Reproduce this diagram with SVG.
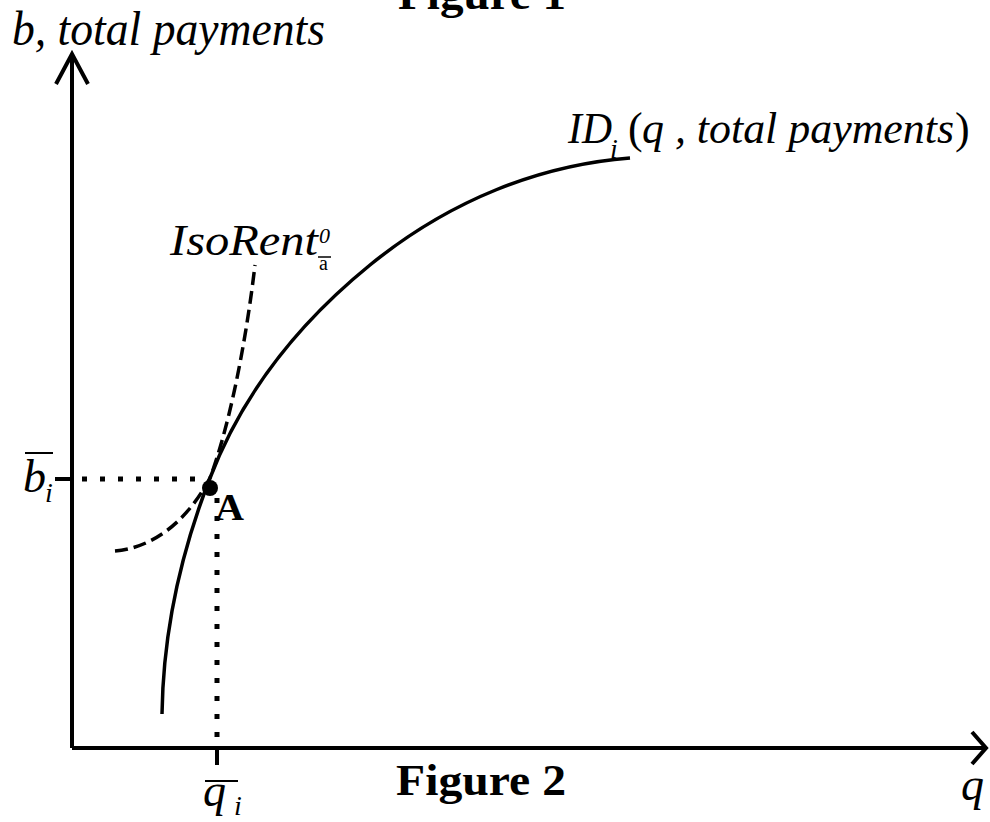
<svg xmlns="http://www.w3.org/2000/svg" width="990" height="822" viewBox="0 0 990 822">
<style>
.ax{stroke:#000;stroke-width:4;fill:none;stroke-linecap:butt}
.cv{stroke:#000;stroke-width:3.5;fill:none}
.dash{stroke:#000;stroke-width:3.5;fill:none;stroke-dasharray:13 6}
.dot{stroke:#000;stroke-width:5;fill:none;stroke-dasharray:5 13}
.it{font-family:"Liberation Serif","Times New Roman",serif;font-style:italic;fill:#000}
.rm{font-family:"Liberation Serif","Times New Roman",serif;fill:#000}
.bd{font-family:"Liberation Serif","Times New Roman",serif;font-weight:bold;fill:#000}
</style>
<rect width="990" height="822" fill="#fff"/>
<g id="connectors">
<path class="ax" d="M72,748 V54"/>
<path class="ax" d="M56,84 L72,54 L88,84"/>
<path class="ax" d="M72,748 H986"/>
<path class="ax" d="M972,732 L986,748 L972,764"/>
<path class="ax" d="M55,479 H72"/>
<path class="ax" d="M217,748 V765"/>
<path class="dot" d="M82,479 H206"/>
<path class="dot" d="M217,498 V748"/>
</g>
<g id="curve-id">
<path class="cv" d="M162,714 C163,640 178,560 210,478 C240,400 290,330 370,265 C450,200 540,165 630,158"/>
</g>
<g id="curve-isorent">
<path class="dash" d="M115,551 C150,548 185,525 210,478 C228,430 245,350 255,265"/>
</g>
<g id="point-a">
<circle cx="210" cy="488" r="8" fill="#000"/>
<text class="bd" x="215" y="520" font-size="38" textLength="29" lengthAdjust="spacingAndGlyphs">A</text>
</g>
<g id="labels">
<text class="bd" x="398" y="9" font-size="44" textLength="168" lengthAdjust="spacingAndGlyphs">Figure 1</text>
<text class="bd" x="396" y="795" font-size="44" textLength="170" lengthAdjust="spacingAndGlyphs">Figure 2</text>
<text class="it" x="12" y="45" font-size="48" textLength="313" lengthAdjust="spacingAndGlyphs">b, total  payments</text>
<text class="it" x="568" y="143" font-size="44" textLength="44" lengthAdjust="spacingAndGlyphs">ID</text>
<text class="it" x="610" y="158" font-size="28">i</text>
<text class="rm" x="628" y="143" font-size="44">(</text>
<text class="it" x="642" y="143" font-size="44" textLength="312" lengthAdjust="spacingAndGlyphs">q , total  payments</text>
<text class="rm" x="955" y="143" font-size="44">)</text>
<text class="it" x="170" y="255" font-size="44" textLength="148" lengthAdjust="spacingAndGlyphs">IsoRent</text>
<text class="it" x="319" y="243" font-size="22">0</text>
<text class="rm" x="319" y="270" font-size="20">a</text>
<path d="M318,257 H331" stroke="#000" stroke-width="1.5"/>
<text class="it" x="23" y="492" font-size="46">b</text>
<path d="M25,453 H53" stroke="#000" stroke-width="2"/>
<text class="it" x="45" y="502" font-size="28">i</text>
<text class="it" x="203" y="806" font-size="46">q</text>
<path d="M205,781 H238" stroke="#000" stroke-width="2"/>
<text class="it" x="234" y="815" font-size="28">i</text>
<text class="it" x="961" y="800" font-size="46">q</text>
</g>
</svg>
